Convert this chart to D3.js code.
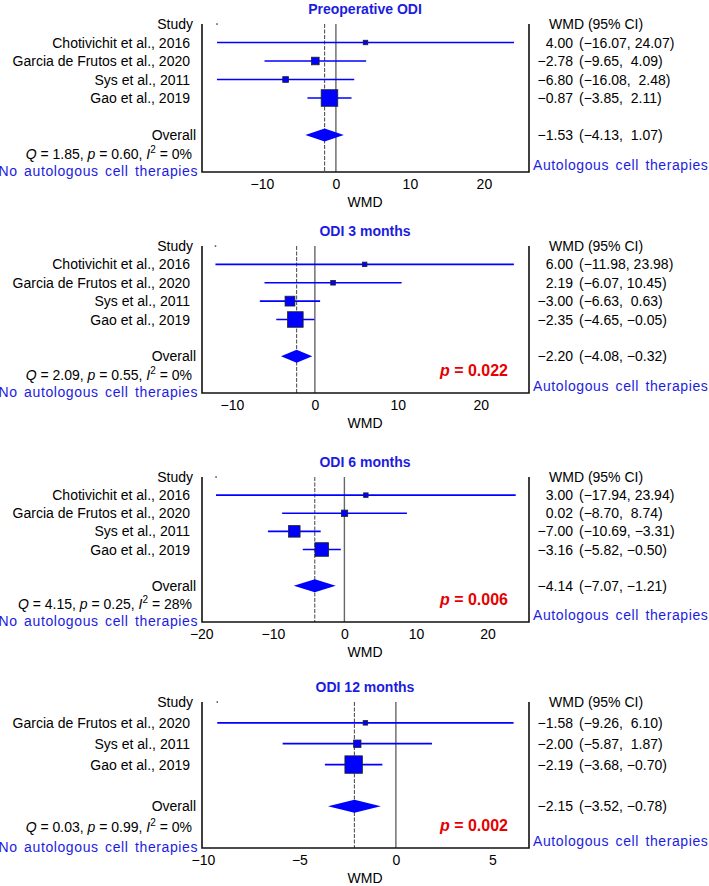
<!DOCTYPE html>
<html>
<head>
<meta charset="utf-8">
<script src="https://cdn.jsdelivr.net/npm/d3@7"></script>
<style>
  body { margin: 0; background: #fff; }
  svg { font-family: Arial, "Liberation Sans", sans-serif; }
  text { white-space: pre; }
</style>
</head>
<body>
<svg width="709" height="886"></svg>
<script>
// data
const titles = ['Preoperative ODI', 'ODI 3 months', 'ODI 6 months', 'ODI 12 months'];

const studies = [
    ['Chotivichit et al., 2016', 'Garcia de Frutos et al., 2020', 'Sys et al., 2011', 'Gao et al., 2019'],
    ['Chotivichit et al., 2016', 'Garcia de Frutos et al., 2020', 'Sys et al., 2011', 'Gao et al., 2019'],
    ['Chotivichit et al., 2016', 'Garcia de Frutos et al., 2020', 'Sys et al., 2011', 'Gao et al., 2019'],
    ['Garcia de Frutos et al., 2020', 'Sys et al., 2011', 'Gao et al., 2019']
];
const est = [
    [4.00, -2.78, -6.80, -0.87],
    [6.00, 2.19, -3.00, -2.35],
    [3.00, 0.02, -7.00, -3.16],
    [-1.58, -2.00, -2.19]
];
const lower = [
    [-16.07, -9.65, -16.08, -3.85],
    [-11.98, -6.07, -6.63, -4.65],
    [-17.94, -8.70, -10.69, -5.82],
    [-9.26, -5.87, -3.68]
];
const upper = [
    [24.07, 4.09, 2.48, 2.11],
    [23.98, 10.45, 0.63, -0.05],
    [23.94, 8.74, -3.31, -0.50],
    [6.10, 1.87, -0.70]
];
// study weights (%)
const weights = [
    [1.7, 16.0, 9.0, 76.2],
    [1.1, 6.0, 26.8, 67.0],
    [1.9, 11.0, 36.9, 51.2],
    [4.5, 15.0, 84.3]
];
const overallEst = [-1.53, -2.20, -4.14, -2.15];
const overallLo = [-4.13, -4.08, -7.07, -3.52];
const overallHi = [1.07, -0.32, -1.21, -0.78];
const hetQ = ['1.85', '2.09', '4.15', '0.03'];
const hetP = ['0.60', '0.55', '0.25', '0.99'];
const hetI2 = ['0%', '0%', '28%', '0%'];
const pOverall = [null, '0.022', '0.006', '0.002'];
const xDomains = [[-18.1, 26.1], [-13.6, 25.8], [-19.9, 25.8], [-10.05, 6.9]];
const xTicks = [[-10, 0, 10, 20], [-10, 0, 10, 20], [-20, -10, 0, 10, 20], [-10, -5, 0, 5]];

const panelTop = [24, 246, 477, 702];
const panelBottom = [172, 393, 622, 848];

const blue = '#0000ff';
const textBlue = '#1c1ce0';
const ink = '#000';
const plotLeft = 202, plotRight = 529;

const svg = d3.select('svg');

const fmt = v => v.toFixed(2).replace('-', '\u2212');

titles.forEach((title, p) => {
    const top = panelTop[p], bottom = panelBottom[p];
    const n = studies[p].length;
    const x = d3.scaleLinear().domain(xDomains[p]).range([plotLeft, plotRight]);
    const y = d3.scaleLinear().domain([0, n + 4]).range([top, bottom]);
    const g = svg.append('g');

    // title
    g.append('text')
        .attr('x', 365).attr('y', top - 10)
        .attr('text-anchor', 'middle')
        .attr('font-size', 14).attr('font-weight', 'bold')
        .attr('fill', textBlue)
        .text(title);

    // reference lines
    g.append('line')
        .attr('x1', x(0)).attr('x2', x(0))
        .attr('y1', top).attr('y2', bottom)
        .attr('stroke', '#666').attr('stroke-width', 1.4);
    g.append('line')
        .attr('x1', x(overallEst[p])).attr('x2', x(overallEst[p]))
        .attr('y1', top).attr('y2', bottom)
        .attr('stroke', '#555').attr('stroke-width', 1.1)
        .attr('stroke-dasharray', '4,1.5');

    // frame
    g.append('path')
        .attr('d', `M${plotLeft},${top}V${bottom}H${plotRight}V${top}`)
        .attr('fill', 'none').attr('stroke', '#111').attr('stroke-width', 1.6);

    // axis
    const axis = g.append('g')
        .attr('transform', `translate(0,${bottom})`)
        .call(d3.axisBottom(x).tickValues(xTicks[p]).tickSize(0).tickPadding(7).tickSizeOuter(0));
    axis.select('.domain').remove();
    axis.selectAll('text').attr('font-size', 14).attr('fill', ink)
        .attr('font-family', 'Arial, "Liberation Sans", sans-serif');

    g.append('text')
        .attr('x', 365).attr('y', bottom + 35)
        .attr('text-anchor', 'middle').attr('font-size', 14).attr('fill', ink)
        .text('WMD');

    // tiny stray dot at the header row
    g.append('rect')
        .attr('x', x(d3.min(lower[p])) - 0.7).attr('y', top - 0.7)
        .attr('width', 1.5).attr('height', 1.5).attr('fill', '#444');

    // headers
    g.append('text')
        .attr('x', 193).attr('y', y(0) + 5)
        .attr('text-anchor', 'end').attr('font-size', 14).attr('fill', ink)
        .text('Study');
    g.append('text')
        .attr('x', 549).attr('y', y(0) + 5)
        .attr('font-size', 14).attr('fill', ink)
        .text('WMD (95% CI)');

    // studies
    studies[p].forEach((name, i) => {
        const yy = y(i + 1);
        g.append('text')
            .attr('x', 190).attr('y', yy + 5)
            .attr('text-anchor', 'end').attr('font-size', 14).attr('fill', ink)
            .text(name);
        g.append('line')
            .attr('x1', x(lower[p][i])).attr('x2', x(upper[p][i]))
            .attr('y1', yy).attr('y2', yy)
            .attr('stroke', blue).attr('stroke-width', 1.7);
        const s = Math.max(4.5, 1.9 * Math.sqrt(weights[p][i]));
        g.append('rect')
            .attr('x', x(est[p][i]) - s / 2).attr('y', yy - s / 2)
            .attr('width', s).attr('height', s)
            .attr('fill', blue).attr('stroke', '#222').attr('stroke-width', 0.8);
        g.append('text')
            .attr('x', 573).attr('y', yy + 5)
            .attr('text-anchor', 'end').attr('font-size', 14).attr('fill', ink)
            .text(fmt(est[p][i]));
        g.append('text')
            .attr('x', 579).attr('y', yy + 5)
            .attr('font-size', 14).attr('fill', ink)
            .text(`(${fmt(lower[p][i])}, ${fmt(upper[p][i]).padStart(5, ' ')})`);
    });

    // overall
    const yo = y(n + 2);
    g.append('text')
        .attr('x', 196).attr('y', yo + 5)
        .attr('text-anchor', 'end').attr('font-size', 14).attr('fill', ink)
        .text('Overall');
    g.append('path')
        .attr('d', `M${x(overallLo[p])},${yo}L${x(overallEst[p])},${yo - 6.5}L${x(overallHi[p])},${yo}L${x(overallEst[p])},${yo + 6.5}Z`)
        .attr('fill', blue);
    g.append('text')
        .attr('x', 573).attr('y', yo + 5)
        .attr('text-anchor', 'end').attr('font-size', 14).attr('fill', ink)
        .text(fmt(overallEst[p]));
    g.append('text')
        .attr('x', 579).attr('y', yo + 5)
        .attr('font-size', 14).attr('fill', ink)
        .text(`(${fmt(overallLo[p])}, ${fmt(overallHi[p]).padStart(5, ' ')})`);

    // heterogeneity
    const het = g.append('text')
        .attr('x', 192).attr('y', y(n + 3) + 5)
        .attr('text-anchor', 'end').attr('font-size', 14).attr('fill', ink);
    het.append('tspan').attr('font-style', 'italic').text('Q');
    het.append('tspan').text(` = ${hetQ[p]}, `);
    het.append('tspan').attr('font-style', 'italic').text('p');
    het.append('tspan').text(` = ${hetP[p]}, `);
    het.append('tspan').attr('font-style', 'italic').text('I');
    het.append('tspan').attr('font-size', 10).attr('dy', -6).text('2');
    het.append('tspan').attr('dy', 6).text(` = ${hetI2[p]}`);

    // favours labels
    g.append('text')
        .attr('x', 198).attr('y', bottom + 4)
        .attr('text-anchor', 'end').attr('font-size', 14)
        .attr('letter-spacing', 0.6).attr('word-spacing', 2)
        .attr('fill', textBlue)
        .text('No autologous cell therapies');
    g.append('text')
        .attr('x', 533).attr('y', bottom - 2)
        .attr('font-size', 14)
        .attr('letter-spacing', 0.6).attr('word-spacing', 2)
        .attr('fill', textBlue)
        .text('Autologous cell therapies');

    // overall p value
    if (pOverall[p]) {
        const pt = g.append('text')
            .attr('x', 508).attr('y', bottom - 17)
            .attr('text-anchor', 'end').attr('font-size', 16).attr('font-weight', 'bold')
            .attr('fill', '#e60000');
        pt.append('tspan').attr('font-style', 'italic').text('p');
        pt.append('tspan').text(` = ${pOverall[p]}`);
    }
});
</script>
</body>
</html>
